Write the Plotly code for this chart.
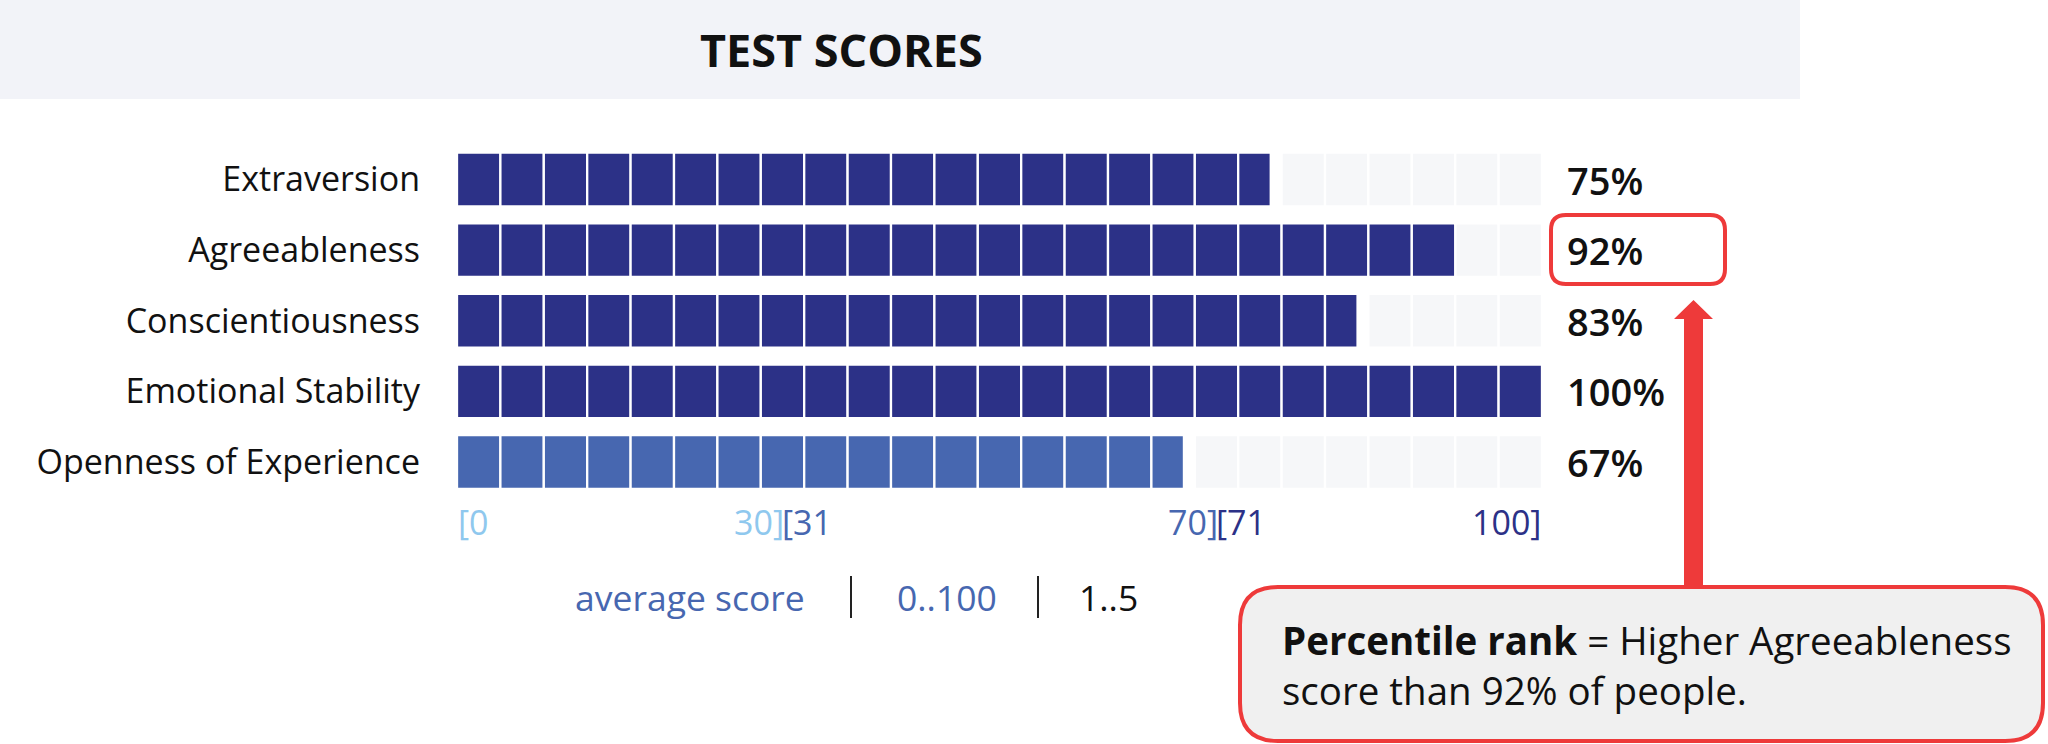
import plotly.graph_objects as go

# ---------------- data ----------------
categories = ["Extraversion", "Agreeableness", "Conscientiousness",
              "Emotional Stability", "Openness of Experience"]
scores = [75, 92, 83, 100, 67]
bar_colors = ["#2c3187", "#2c3187", "#2c3187", "#2c3187", "#4767b0"]
n_cells = 25
range_starts = [0, 31, 71]
range_ends = [30, 70, 100]
range_colors = ["#8fc8ee", "#4767b0", "#2c3187"]
legend_items = ["average score", "0..100", "1..5"]
legend_colors = ["#4767b0", "#4767b0", "#111111"]
title_text = "TEST SCORES"
callout_lines = ["<b>Percentile rank</b> = Higher Agreeableness",
                 "score than 92% of people."]

W, H = 2048, 744
FONT = "Open Sans"
EMPTY = "#f6f7f9"
RED = "#ee3a3a"


def px(x):
    return x / W


def py(y):
    return 1 - y / H


def rounded_rect(x0, y0, x1, y1, r):
    X0, X1 = px(x0), px(x1)
    Yt, Yb = py(y0), py(y1)
    rx, ry = r / W, r / H
    return (f"M {X0+rx},{Yt} L {X1-rx},{Yt} Q {X1},{Yt} {X1},{Yt-ry} "
            f"L {X1},{Yb+ry} Q {X1},{Yb} {X1-rx},{Yb} L {X0+rx},{Yb} "
            f"Q {X0},{Yb} {X0},{Yb+ry} L {X0},{Yt-ry} Q {X0},{Yt} {X0+rx},{Yt} Z")


cell = 100 / n_cells
fig = go.Figure()

# empty (grey) cells
e_y, e_x, e_base = [], [], []
for cat, s in zip(categories, scores):
    for k in range(n_cells):
        start = k * cell
        if start >= s:
            e_y.append(cat)
            e_x.append(cell)
            e_base.append(start)
fig.add_trace(go.Bar(y=e_y, x=e_x, base=e_base, orientation="h",
                     marker=dict(color=EMPTY, line=dict(color="white", width=2.3)),
                     width=0.76, hoverinfo="skip", showlegend=False))

# filled cells
for cat, s, col in zip(categories, scores, bar_colors):
    fy, fx, fb = [], [], []
    for k in range(n_cells):
        start = k * cell
        filled = min(max(s - start, 0), cell)
        if filled > 0:
            fy.append(cat)
            fx.append(filled)
            fb.append(start)
    fig.add_trace(go.Bar(y=fy, x=fx, base=fb, orientation="h",
                         marker=dict(color=col, line=dict(color="white", width=2.3)),
                         width=0.76, showlegend=False, name=cat))

annotations = []
# percentage labels
for cat, s in zip(categories, scores):
    annotations.append(dict(x=100, y=cat, xref="x", yref="y", text=f"{s}%",
                            xanchor="left", yanchor="middle", xshift=23, showarrow=False,
                            font=dict(family=FONT, size=38, color="#111111", weight=600)))

# range labels below bars
prev_end = 0
for lo, hi, col in zip(range_starts, range_ends, range_colors):
    annotations.append(dict(x=prev_end, y=py(522), xref="x", yref="paper", text=f"[{lo}",
                            xanchor="left", yanchor="middle", showarrow=False,
                            xshift=-2 if prev_end > 0 else 0, borderpad=0,
                            font=dict(family=FONT, size=34, color=col)))
    annotations.append(dict(x=hi, y=py(522), xref="x", yref="paper", text=f"{hi}]",
                            xanchor="right", yanchor="middle", showarrow=False,
                            xshift=2 if hi < 100 else 0, borderpad=0,
                            font=dict(family=FONT, size=34, color=col)))
    prev_end = hi

# legend-like row
legend_x = [690, 947, 1108]
for t, c, lx in zip(legend_items, legend_colors, legend_x):
    annotations.append(dict(x=px(lx), y=py(597), xref="paper", yref="paper", text=t,
                            xanchor="center", yanchor="middle", showarrow=False,
                            font=dict(family=FONT, size=35.5, color=c)))

# title
annotations.append(dict(x=px(841), y=py(50), xref="paper", yref="paper", text=f"<b>{title_text}</b>",
                        xanchor="center", yanchor="middle", showarrow=False,
                        font=dict(family=FONT, size=45, color="#111111")))

# callout text
annotations.append(dict(x=px(1280), y=py(665), xref="paper", yref="paper",
                        text="<br>".join(callout_lines), align="left",
                        xanchor="left", yanchor="middle", showarrow=False,
                        font=dict(family=FONT, size=38.5, color="#111111")))

shapes = [
    # title band
    dict(type="rect", xref="paper", yref="paper", x0=0, x1=px(1800), y0=py(99), y1=1,
         fillcolor="#f2f3f8", line=dict(width=0), layer="below"),
    # separators
    dict(type="line", xref="paper", yref="paper", x0=px(851), x1=px(851), y0=py(576), y1=py(618),
         line=dict(color="#222222", width=2)),
    dict(type="line", xref="paper", yref="paper", x0=px(1038), x1=px(1038), y0=py(576), y1=py(618),
         line=dict(color="#222222", width=2)),
    # highlight box around 92%
    dict(type="path", xref="paper", yref="paper", path=rounded_rect(1551, 215, 1725, 284, 15),
         line=dict(color=RED, width=4), fillcolor="rgba(0,0,0,0)"),
    # arrow
    dict(type="path", xref="paper", yref="paper",
         path=(f"M {px(1693.5)},{py(300)} L {px(1713)},{py(319)} L {px(1703)},{py(319)} "
               f"L {px(1703)},{py(590)} L {px(1684)},{py(590)} L {px(1684)},{py(319)} "
               f"L {px(1674)},{py(319)} Z"),
         fillcolor=RED, line=dict(width=0)),
    # callout box
    dict(type="path", xref="paper", yref="paper", path=rounded_rect(1240, 587, 2043, 741, 38),
         fillcolor="#f0f0f0", line=dict(color=RED, width=4)),
]

fig.update_layout(
    width=W, height=H, autosize=False,
    margin=dict(l=0, r=0, t=0, b=0),
    paper_bgcolor="white", plot_bgcolor="white",
    barmode="overlay",
    showlegend=False,
    xaxis=dict(domain=[px(457), px(1542)], range=[0, 100], visible=False, fixedrange=True),
    yaxis=dict(domain=[py(497.3), py(144.2)], type="category", categoryorder="array",
               categoryarray=categories, range=[4.5, -0.5], showgrid=False, zeroline=False,
               showline=False, ticks="", ticklabelstandoff=36,
               tickfont=dict(family=FONT, size=34, color="#111111"), fixedrange=True),
    annotations=annotations,
    shapes=shapes,
)

fig.write_html("out.html", config={"displayModeBar": False},
               post_script="document.body.style.margin='0';document.body.style.overflow='hidden';")
